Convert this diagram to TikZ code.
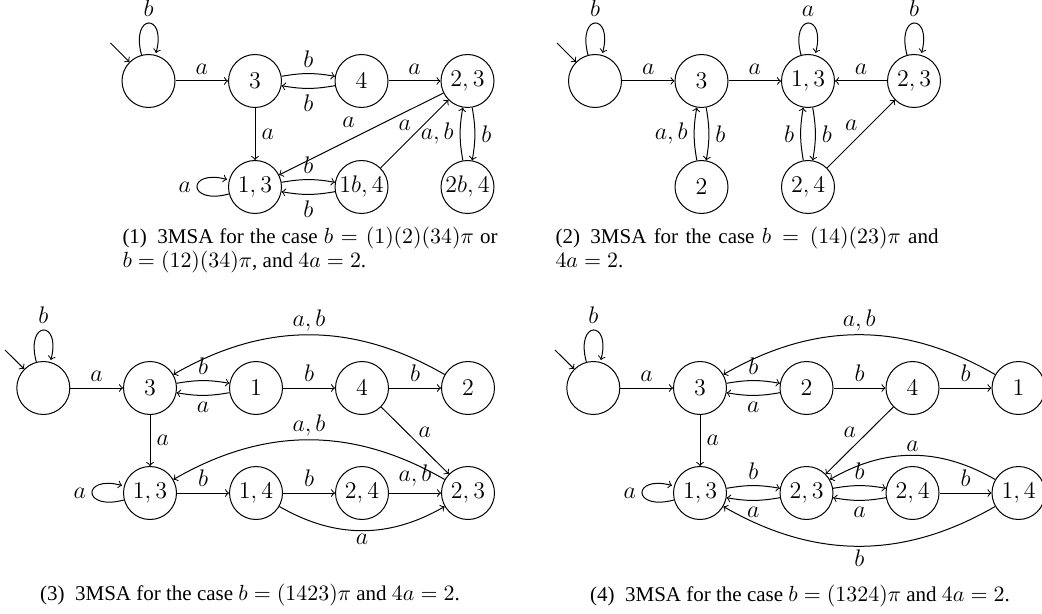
\documentclass[tikz,border=0pt]{standalone}
\usepackage{fontspec}
\newfontfamily\capfont{Liberation Serif}
\begin{document}
\begin{tikzpicture}[x=0.5pt,y=-0.5pt,line width=0.5pt,
  st/.style={draw,circle,minimum size=26.5pt,inner sep=0.5pt,font=\fontsize{12.2}{14}\selectfont},
  lbl/.style={font=\fontsize{12.2}{14}\selectfont,inner sep=3pt},
  dlbl/.style={lbl,inner sep=1.5pt},
  capt/.style={font=\capfont\fontsize{10.5}{12}\selectfont,inner sep=0pt}]
\useasboundingbox (0,0) rectangle (1042,614);
% ---------- panel 1 ----------
\node[st] (a0) at (148.5,81) {};
\node[st] (a3) at (255,81) {$3$};
\node[st] (a4) at (361.5,81) {$4$};
\node[st] (a23) at (467.5,81) {$2,3$};
\node[st] (a13) at (255,187) {$1,3$};
\node[st] (a1b4) at (361.5,187) {$1b,4$};
\node[st] (a2b4) at (467.5,187) {$2b,4$};
\coordinate (ai) at (110.5,43);
\draw[->] (ai) -- (a0);
\path[->] (a0) edge[loop above] node[lbl,above]{$b$} ();
\draw[->] (a0) -- node[lbl,above]{$a$} (a3);
\draw[->] (a3) to[bend left=10] node[lbl,above]{$b$} (a4);
\draw[->] (a4) to[bend left=10] node[lbl,below]{$b$} (a3);
\draw[->] (a4) -- node[lbl,above]{$a$} (a23);
\draw[->] (a3) -- node[lbl,right]{$a$} (a13);
\draw[->] (a23) -- node[lbl,above left]{$a$} (a13);
\draw[->] (a1b4) -- node[dlbl,above left]{$a$} (a23);
\draw[->] (a2b4) to[bend left=10] node[lbl,left]{$a,b$} (a23);
\draw[->] (a23) to[bend left=10] node[lbl,right]{$b$} (a2b4);
\path[->] (a13) edge[loop left] node[lbl,left]{$a$} ();
\draw[->] (a13) to[bend left=10] node[lbl,above]{$b$} (a1b4);
\draw[->] (a1b4) to[bend left=10] node[lbl,below]{$b$} (a13);
\node[capt,anchor=base west] (cap1) at (122,243.5) {\parbox[t]{187.5pt}{(1)\enspace 3MSA for the case $b=(1)(2)(34)\pi$ or\linebreak $b=(12)(34)\pi$, and $4a=2$.}};
% ---------- panel 2 ----------
\node[st] (b0) at (595,81) {};
\node[st] (b3) at (701.5,81) {$3$};
\node[st] (b13) at (808,81) {$1,3$};
\node[st] (b23) at (914,81) {$2,3$};
\node[st] (b2) at (701.5,187) {$2$};
\node[st] (b24) at (808,187) {$2,4$};
\coordinate (bi) at (557,43);
\draw[->] (bi) -- (b0);
\path[->] (b0) edge[loop above] node[lbl,above]{$b$} ();
\draw[->] (b0) -- node[lbl,above]{$a$} (b3);
\draw[->] (b3) -- node[lbl,above]{$a$} (b13);
\draw[->] (b23) -- node[lbl,above]{$a$} (b13);
\path[->] (b13) edge[loop above] node[lbl,above]{$a$} ();
\path[->] (b23) edge[loop above] node[lbl,above]{$b$} ();
\draw[->] (b2) to[bend left=10] node[lbl,left]{$a,b$} (b3);
\draw[->] (b3) to[bend left=10] node[lbl,right]{$b$} (b2);
\draw[->] (b24) to[bend left=10] node[lbl,left]{$b$} (b13);
\draw[->] (b13) to[bend left=10] node[lbl,right]{$b$} (b24);
\draw[->] (b24) -- node[dlbl,above left]{$a$} (b23);
\node[capt,anchor=base west] (cap2) at (555,243.5) {\parbox[t]{191.5pt}{(2)\enspace 3MSA for the case $b=(14)(23)\pi$ and\linebreak $4a=2$.}};
% ---------- panel 3 ----------
\node[st] (c0) at (43.3,388) {};
\node[st] (c3) at (150,388) {$3$};
\node[st] (c1) at (256,388) {$1$};
\node[st] (c4) at (362,388) {$4$};
\node[st] (c2) at (468,388) {$2$};
\node[st] (c13) at (150,493) {$1,3$};
\node[st] (c14) at (256,493) {$1,4$};
\node[st] (c24) at (362,493) {$2,4$};
\node[st] (c23) at (468,493) {$2,3$};
\coordinate (ci) at (5,350);
\draw[->] (ci) -- (c0);
\path[->] (c0) edge[loop above] node[lbl,above]{$b$} ();
\draw[->] (c0) -- node[lbl,above]{$a$} (c3);
\draw[->] (c3) to[bend left=10] node[lbl,above]{$b$} (c1);
\draw[->] (c1) to[bend left=10] node[lbl,below]{$a$} (c3);
\draw[->] (c1) -- node[lbl,above]{$b$} (c4);
\draw[->] (c4) -- node[lbl,above]{$b$} (c2);
\draw[->] (c2) to[bend right=30] node[dlbl,above]{$a,b$} (c3);
\draw[->] (c3) -- node[lbl,right]{$a$} (c13);
\draw[->] (c4) -- node[dlbl,above right]{$a$} (c23);
\draw[->] (c23) to[bend right=30] node[dlbl,above]{$a,b$} (c13);
\path[->] (c13) edge[loop left] node[lbl,left]{$a$} ();
\draw[->] (c13) -- node[lbl,above]{$b$} (c14);
\draw[->] (c14) -- node[lbl,above]{$b$} (c24);
\draw[->] (c24) -- node[lbl,above]{$a,b$} (c23);
\draw[->] (c14) to[bend right=30] node[dlbl,below]{$a$} (c23);
\node[capt,anchor=base] (cap3) at (250,600.7) {(3)\enspace 3MSA for the case $b=(1423)\pi$ and $4a=2$.};
% ---------- panel 4 ----------
\node[st] (d0) at (593.3,388) {};
\node[st] (d3) at (700,388) {$3$};
\node[st] (d2) at (806.5,388) {$2$};
\node[st] (d4) at (912.5,388) {$4$};
\node[st] (d1) at (1018.5,388) {$1$};
\node[st] (d13) at (700,493) {$1,3$};
\node[st] (d23) at (806.5,493) {$2,3$};
\node[st] (d24) at (912.5,493) {$2,4$};
\node[st] (d14) at (1018.5,493) {$1,4$};
\coordinate (di) at (555,350);
\draw[->] (di) -- (d0);
\path[->] (d0) edge[loop above] node[lbl,above]{$b$} ();
\draw[->] (d0) -- node[lbl,above]{$a$} (d3);
\draw[->] (d3) to[bend left=10] node[lbl,above]{$b$} (d2);
\draw[->] (d2) to[bend left=10] node[lbl,below]{$a$} (d3);
\draw[->] (d2) -- node[lbl,above]{$b$} (d4);
\draw[->] (d4) -- node[lbl,above]{$b$} (d1);
\draw[->] (d1) to[bend right=30] node[dlbl,above]{$a,b$} (d3);
\draw[->] (d3) -- node[lbl,right]{$a$} (d13);
\draw[->] (d4) -- node[dlbl,above left]{$a$} (d23);
\path[->] (d13) edge[loop left] node[lbl,left]{$a$} ();
\draw[->] (d13) to[bend left=10] node[lbl,above]{$b$} (d23);
\draw[->] (d23) to[bend left=10] node[lbl,below]{$a$} (d13);
\draw[->] (d23) to[bend left=10] node[lbl,above]{$b$} (d24);
\draw[->] (d24) to[bend left=10] node[lbl,below]{$a$} (d23);
\draw[->] (d24) -- node[lbl,above]{$b$} (d14);
\draw[->] (d14) to[bend right=30] node[dlbl,above]{$a$} (d23);
\draw[->] (d14) to[bend left=30] node[dlbl,below]{$b$} (d13);
\node[capt,anchor=base] (cap4) at (800,601.7) {(4)\enspace 3MSA for the case $b=(1324)\pi$ and $4a=2$.};
\end{tikzpicture}
\end{document}
